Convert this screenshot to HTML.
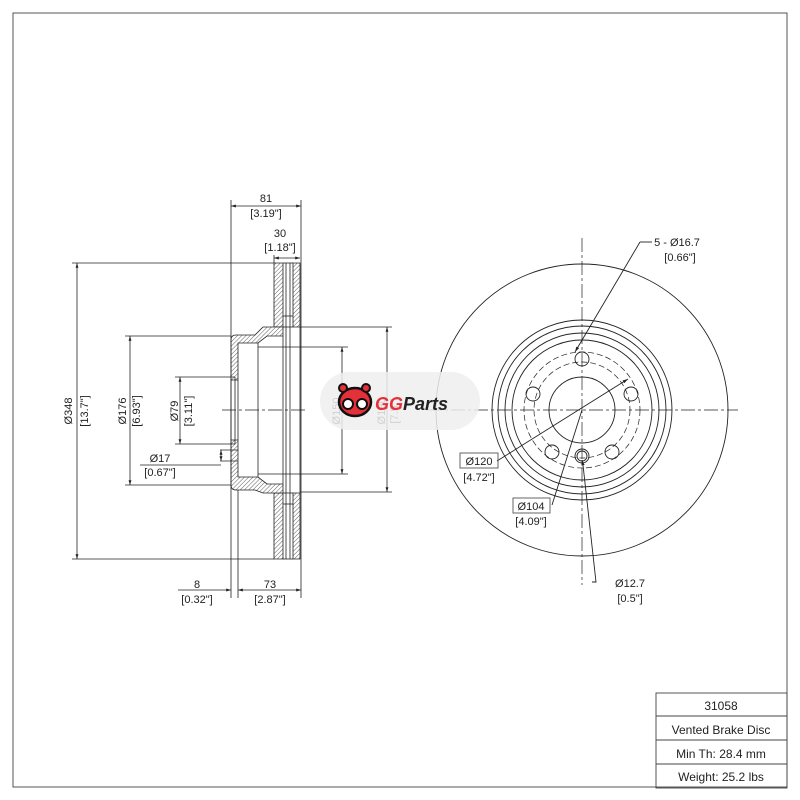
<!DOCTYPE html>
<html><head><meta charset="utf-8"><style>
html,body{margin:0;padding:0;background:#fff;}
svg{display:block;}
text{font-family:"Liberation Sans",sans-serif;font-size:11px;fill:#222;}
</style></head><body>
<svg width="800" height="800" viewBox="0 0 800 800" xmlns="http://www.w3.org/2000/svg">
<defs>
<pattern id="h" width="3" height="3" patternUnits="userSpaceOnUse" patternTransform="rotate(45)">
<rect width="3" height="3" fill="#fff"/><line x1="0" y1="0" x2="0" y2="3" stroke="#333" stroke-width="0.8"/>
</pattern>
<marker id="a" viewBox="0 0 10 10" refX="10" refY="5" markerWidth="6" markerHeight="6" orient="auto-start-reverse"><path d="M0,2 L10,5 L0,8 z" fill="#222"/></marker>
</defs>
<rect x="13" y="13" width="774" height="774" fill="none" stroke="#555" stroke-width="1"/>

<g stroke="#222" stroke-width="0.8" fill="none">
<path d="M274,263 H283 V327 H274 Z M274,493 H283 V559 H274 Z" fill="url(#h)"/>
<path d="M293,263 H300 V327 H293 Z M293,493 H300 V559 H293 Z" fill="url(#h)"/>
<line x1="283" y1="263" x2="293" y2="263"/><line x1="283" y1="559" x2="293" y2="559"/>
<line x1="286" y1="263" x2="286" y2="559"/><line x1="290" y1="263" x2="290" y2="559"/>
<line x1="283" y1="316" x2="293" y2="316"/><line x1="283" y1="327" x2="293" y2="327"/>
<line x1="283" y1="493" x2="293" y2="493"/><line x1="283" y1="504" x2="293" y2="504"/>
<path d="M231,340 Q231,335 236,335 H255 L263,327 H283 V336 H267 L258,343 H238 V380 H231 Z" fill="url(#h)"/>
<path d="M231,485 Q231,490 236,490 H255 L263,493 H283 V484 H267 L258,477 H238 V440 H231 Z" fill="url(#h)"/>
<line x1="231" y1="380" x2="231" y2="440"/><line x1="238" y1="380" x2="238" y2="440"/>
<line x1="235" y1="377" x2="235" y2="444"/>
<line x1="258" y1="343" x2="258" y2="477"/>
<line x1="283" y1="336" x2="283" y2="484"/>
<line x1="300" y1="327" x2="300" y2="493"/>
<line x1="231" y1="200" x2="231" y2="598"/><line x1="301" y1="200" x2="301" y2="598"/>
<line x1="274" y1="255" x2="274" y2="263"/><line x1="238" y1="490" x2="238" y2="598"/>
<line x1="72" y1="263" x2="274" y2="263"/><line x1="72" y1="559" x2="274" y2="559"/>
<line x1="125" y1="336" x2="231" y2="336"/><line x1="125" y1="485" x2="231" y2="485"/>
<line x1="175" y1="377" x2="235" y2="377"/><line x1="175" y1="444" x2="235" y2="444"/>
<line x1="258" y1="347" x2="348" y2="347"/><line x1="258" y1="474" x2="348" y2="474"/>
<line x1="300" y1="327" x2="392" y2="327"/><line x1="300" y1="492" x2="392" y2="492"/>
<line x1="140" y1="465" x2="221" y2="465"/>
<line x1="220" y1="450" x2="238" y2="450"/><line x1="220" y1="461" x2="238" y2="461"/>
<line x1="231" y1="206" x2="301" y2="206" marker-start="url(#a)" marker-end="url(#a)"/>
<line x1="274" y1="258" x2="300" y2="258" marker-start="url(#a)" marker-end="url(#a)"/>
<line x1="77" y1="263" x2="77" y2="559" marker-start="url(#a)" marker-end="url(#a)"/>
<line x1="130" y1="336" x2="130" y2="485" marker-start="url(#a)" marker-end="url(#a)"/>
<line x1="180" y1="377" x2="180" y2="444" marker-start="url(#a)" marker-end="url(#a)"/>
<line x1="221" y1="450" x2="221" y2="461" marker-start="url(#a)" marker-end="url(#a)"/>
<line x1="342" y1="347" x2="342" y2="474" marker-start="url(#a)" marker-end="url(#a)"/>
<line x1="387" y1="327" x2="387" y2="492" marker-start="url(#a)" marker-end="url(#a)"/>
<line x1="178" y1="590" x2="231" y2="590" marker-end="url(#a)"/>
<line x1="238" y1="590" x2="301" y2="590" marker-start="url(#a)" marker-end="url(#a)"/>
<line x1="222" y1="410" x2="308" y2="410" stroke-dasharray="14,3,3,3"/>
</g>

<g text-anchor="middle">
<text x="266" y="202">81</text><text x="266" y="217">[3.19"]</text>
<text x="280" y="237">30</text><text x="280" y="251">[1.18"]</text>
<text x="197" y="588">8</text><text x="197" y="603">[0.32"]</text>
<text x="270" y="588">73</text><text x="270" y="603">[2.87"]</text>
<text x="160" y="462">Ø17</text><text x="160" y="476">[0.67"]</text>
<text transform="translate(72,411) rotate(-90)">Ø348</text>
<text transform="translate(88,411) rotate(-90)">[13.7"]</text>
<text transform="translate(126,411) rotate(-90)">Ø176</text>
<text transform="translate(140,411) rotate(-90)">[6.93"]</text>
<text transform="translate(178,411) rotate(-90)">Ø79</text>
<text transform="translate(192,411) rotate(-90)">[3.11"]</text>
<text transform="translate(340,411) rotate(-90)" fill="#999">Ø150</text>
<text transform="translate(385,411) rotate(-90)" fill="#999">Ø190</text>
<text transform="translate(398,411) rotate(-90)" fill="#999">[7.5"]</text>
</g>

<g stroke="#222" stroke-width="0.9" fill="none">
<circle cx="582" cy="410" r="146"/>
<circle cx="582" cy="410" r="90"/><circle cx="582" cy="410" r="84"/>
<circle cx="582" cy="410" r="77"/><circle cx="582" cy="410" r="70"/>
<circle cx="582" cy="410" r="33"/>
<circle cx="582" cy="410" r="48" stroke-dasharray="6,3" stroke-width="0.7"/>
<circle cx="582" cy="410" r="58" stroke-dasharray="6,3" stroke-width="0.7"/>
<circle cx="582" cy="359" r="7"/>
<circle cx="533" cy="394" r="7"/><circle cx="631" cy="394" r="7"/>
<circle cx="552" cy="452" r="7"/><circle cx="612" cy="452" r="7"/>
<circle cx="582" cy="456" r="7"/><circle cx="582" cy="456" r="5"/>
<line x1="582" y1="238" x2="582" y2="585" stroke-dasharray="14,3,3,3" stroke-width="0.7"/>
<line x1="428" y1="410" x2="738" y2="410" stroke-dasharray="14,3,3,3" stroke-width="0.7"/>
<line x1="640" y1="242" x2="575" y2="352" marker-end="url(#a)"/>
<polyline points="652,242 640,242"/>
<line x1="497" y1="461" x2="628" y2="379" marker-end="url(#a)"/>
<line x1="552" y1="505" x2="582" y2="410"/>
<polyline points="592,582 596,582 583,465" />
<line x1="583" y1="465" x2="582" y2="460" marker-end="url(#a)"/>
<rect x="460" y="453" width="38" height="15" stroke="#555"/>
<rect x="513" y="498" width="37" height="15" stroke="#555"/>
</g>
<g text-anchor="middle">
<text x="677" y="246">5 - Ø16.7</text><text x="680" y="261">[0.66"]</text>
<text x="479" y="465">Ø120</text><text x="479" y="481">[4.72"]</text>
<text x="531" y="510">Ø104</text><text x="531" y="525">[4.09"]</text>
<text x="630" y="587">Ø12.7</text><text x="630" y="602">[0.5"]</text>
</g>

<rect x="320" y="372" width="160" height="58" rx="29" fill="#eee" fill-opacity="0.85"/>
<g>
<ellipse cx="355" cy="402" rx="16" ry="14" fill="#e5303a" stroke="#111" stroke-width="2.5"/>
<circle cx="343" cy="388" r="4" fill="#e5303a" stroke="#111" stroke-width="2"/>
<circle cx="366" cy="388" r="4" fill="#e5303a" stroke="#111" stroke-width="2"/>
<circle cx="348" cy="404" r="5" fill="#fff" stroke="#111" stroke-width="2"/>
<circle cx="362" cy="404" r="5" fill="#fff" stroke="#111" stroke-width="2"/>
</g>
<text x="375" y="410" style="font-size:18px;font-weight:bold;font-style:italic;fill:#e5303a">GG</text>
<text x="403" y="410" style="font-size:18px;font-weight:bold;font-style:italic;fill:#222">Parts</text>

<g stroke="#444" stroke-width="0.9" fill="none">
<rect x="656" y="693" width="131" height="95"/>
<line x1="656" y1="716" x2="787" y2="716"/>
<line x1="656" y1="740" x2="787" y2="740"/>
<line x1="656" y1="764" x2="787" y2="764"/>
</g>
<g text-anchor="middle">
<text x="721" y="710" style="font-size:12px">31058</text>
<text x="721" y="734" style="font-size:12px">Vented Brake Disc</text>
<text x="721" y="758" style="font-size:12px">Min Th: 28.4 mm</text>
<text x="721" y="781" style="font-size:12px">Weight: 25.2 lbs</text>
</g>
</svg>
</body></html>
